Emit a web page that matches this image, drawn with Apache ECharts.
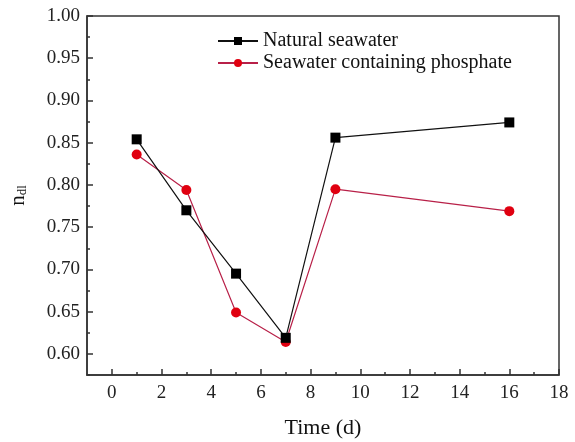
<!DOCTYPE html>
<html>
<head>
<meta charset="utf-8">
<script src="https://cdn.jsdelivr.net/npm/echarts@6/dist/echarts.min.js"></script>
<style>
  html, body { margin: 0; padding: 0; background: #fff; }
  #chart { width: 575px; height: 442px; }
</style>
</head>
<body>
<div id="chart"></div>
<script>
// data
const times = [1, 3, 5, 7, 9, 16];
const natural = [0.854, 0.770, 0.695, 0.619, 0.856, 0.874];
const phosphate = [0.836, 0.794, 0.649, 0.614, 0.795, 0.769];
const xMajor = [0, 2, 4, 6, 8, 10, 12, 14, 16, 18];
const xMinor = [1, 3, 5, 7, 9, 11, 13, 15, 17];
const yMajor = [0.60, 0.65, 0.70, 0.75, 0.80, 0.85, 0.90, 0.95, 1.00];
const yMinor = [0.575, 0.625, 0.675, 0.725, 0.775, 0.825, 0.875, 0.925, 0.975];

const font = 'Liberation Serif';
const chart = echarts.init(document.getElementById('chart'));

const pairs = (ys) => times.map((t, i) => [t, ys[i]]);

const option = {
  animation: false,
  grid: {
    left: 87, right: 16, top: 16, bottom: 67,
    outerBoundsMode: 'none',
    show: true, borderColor: '#333', borderWidth: 1.5,
  },
  legend: {
    left: 212, top: 26,
    orient: 'vertical',
    itemGap: 2,
    itemWidth: 40, itemHeight: 10,
    textStyle: { fontFamily: font, fontSize: 20, color: '#111', padding: [0, 0, 0, 0] },
    data: ['Natural seawater', 'Seawater containing phosphate'],
  },
  xAxis: [
    {
      type: 'value', min: -1, max: 18,
      name: 'Time (d)', nameLocation: 'middle', nameGap: 42,
      nameTextStyle: { fontFamily: font, fontSize: 22, color: '#111' },
      axisLine: { onZero: false, lineStyle: { color: '#333', width: 1.5 } },
      axisTick: { inside: true, length: 6, customValues: xMajor, lineStyle: { color: '#333', width: 1.5 } },
      axisLabel: { customValues: xMajor, fontFamily: font, fontSize: 19, color: '#222', margin: 9 },
      splitLine: { show: false },
    },
    {
      type: 'value', min: -1, max: 18, position: 'bottom',
      axisLine: { show: false, onZero: false },
      axisTick: { inside: true, length: 3, customValues: xMinor, lineStyle: { color: '#333', width: 1.5 } },
      axisLabel: { show: false },
      splitLine: { show: false },
    },
  ],
  yAxis: [
    {
      type: 'value', min: 0.575, max: 1.0,
      name: '{n|n}{s|dl}', nameLocation: 'middle', nameGap: 58, nameRotate: 90,
      nameTextStyle: {
        rich: {
          n: { fontFamily: font, fontSize: 21, color: '#111' },
          s: { fontFamily: font, fontSize: 13, color: '#111', verticalAlign: 'bottom', padding: [8, 0, 0, 0] },
        },
      },
      axisLine: { show: true, onZero: false, lineStyle: { color: '#333', width: 1.5 } },
      axisTick: { show: true, inside: true, length: 6, customValues: yMajor, lineStyle: { color: '#333', width: 1.5 } },
      axisLabel: {
        customValues: yMajor, fontFamily: font, fontSize: 19, color: '#222', margin: 7,
        formatter: (v) => v.toFixed(2),
      },
      splitLine: { show: false },
    },
    {
      type: 'value', min: 0.575, max: 1.0, position: 'left',
      axisLine: { show: false, onZero: false },
      axisTick: { show: true, inside: true, length: 3, customValues: yMinor, lineStyle: { color: '#333', width: 1.5 } },
      axisLabel: { show: false },
      splitLine: { show: false },
    },
  ],
  series: [
    {
      name: 'Natural seawater',
      type: 'line',
      data: pairs(natural),
      symbol: 'rect', symbolSize: 10,
      lineStyle: { color: '#111', width: 1.2 },
      itemStyle: { color: '#000' },
      z: 3,
    },
    {
      name: 'Seawater containing phosphate',
      type: 'line',
      data: pairs(phosphate),
      symbol: 'circle', symbolSize: 10,
      lineStyle: { color: '#b82048', width: 1.2 },
      itemStyle: { color: '#e00010' },
      z: 2,
    },
  ],
};

chart.setOption(option);
</script>
</body>
</html>
